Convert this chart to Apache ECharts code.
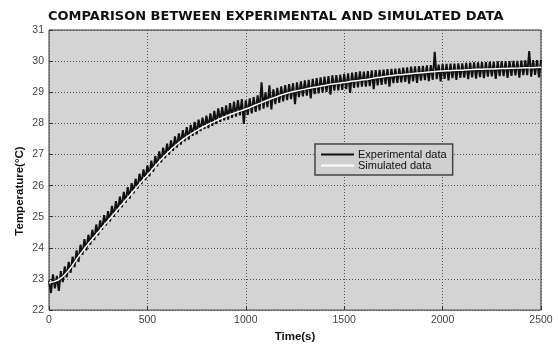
<!DOCTYPE html>
<html>
<head>
<meta charset="utf-8">
<script src="https://cdn.jsdelivr.net/npm/echarts@6/dist/echarts.min.js"></script>
<style>
  html, body { margin: 0; padding: 0; background: #fff; }
  #chart { width: 558px; height: 348px; }
</style>
</head>
<body>
<div id="chart"></div>
<script>
// measured temperature, one reading every 10 s (0..2500 s)
const EXP_STEP = 10;
const expTemp = [
  22.95, 22.55, 23.15, 22.70, 23.10, 22.62, 23.25, 22.90, 23.40, 23.05,
  23.55, 23.20, 23.72, 23.38, 23.92, 23.55, 24.10, 23.78, 24.28, 23.92,
  24.42, 24.10, 24.58, 24.25, 24.75, 24.40, 24.88, 24.58, 25.05, 24.72,
  25.18, 24.85, 25.35, 25.00, 25.50, 25.15, 25.65, 25.30, 25.80, 25.45,
  25.95, 25.58, 26.08, 25.75, 26.22, 25.90, 26.38, 26.05, 26.52, 26.18,
  26.65, 26.30, 26.80, 26.45, 26.95, 26.62, 27.10, 26.75, 27.22, 26.88,
  27.35, 27.00, 27.45, 27.12, 27.58, 27.22, 27.68, 27.32, 27.78, 27.42,
  27.88, 27.48, 27.95, 27.60, 28.05, 27.65, 28.12, 27.75, 28.18, 27.82,
  28.25, 27.85, 28.32, 27.92, 28.40, 27.98, 28.48, 28.05, 28.52, 28.10,
  28.58, 28.12, 28.65, 28.18, 28.70, 28.22, 28.75, 28.26, 28.78, 27.98,
  28.74, 28.27, 28.80, 28.32, 28.84, 28.37, 28.90, 28.42, 29.32, 28.47,
  29.00, 28.52, 29.22, 28.45, 29.09, 28.62, 29.14, 28.66, 29.19, 28.71,
  29.23, 28.75, 29.26, 28.78, 29.29, 28.62, 29.32, 28.84, 29.35, 28.87,
  29.38, 28.89, 29.40, 28.80, 29.43, 28.94, 29.45, 28.96, 29.48, 28.99,
  29.50, 29.01, 29.52, 28.92, 29.54, 29.05, 29.55, 29.06, 29.57, 29.08,
  29.59, 29.10, 29.61, 28.98, 29.63, 29.14, 29.65, 29.16, 29.67, 29.18,
  29.66, 29.18, 29.68, 29.20, 29.70, 29.10, 29.71, 29.22, 29.72, 29.24,
  29.73, 29.26, 29.74, 29.18, 29.75, 29.29, 29.76, 29.30, 29.77, 29.32,
  29.79, 29.33, 29.80, 29.28, 29.82, 29.35, 29.83, 29.30, 29.84, 29.37,
  29.85, 29.39, 29.86, 29.36, 29.87, 29.40, 30.30, 29.42, 29.89, 29.35,
  29.90, 29.43, 29.91, 29.38, 29.92, 29.45, 29.92, 29.40, 29.93, 29.46,
  29.93, 29.47, 29.94, 29.42, 29.95, 29.48, 29.96, 29.44, 29.96, 29.49,
  29.97, 29.45, 29.97, 29.50, 29.98, 29.51, 29.98, 29.43, 29.99, 29.52,
  29.99, 29.52, 30.00, 29.46, 30.00, 29.53, 30.01, 29.54, 30.01, 29.47,
  30.02, 29.55, 30.02, 29.55, 30.32, 29.50, 30.03, 29.56, 30.03, 29.48,
  30.04
];

// model output, every 50 s
const SIM_STEP = 50;
const simTemp = [
  22.88, 22.98, 23.28, 23.72, 24.13, 24.50, 24.87, 25.24, 25.61, 25.98,
  26.34, 26.70, 27.04, 27.33, 27.57, 27.77, 27.94, 28.09, 28.23, 28.35,
  28.46, 28.59, 28.72, 28.84, 28.95, 29.03, 29.10, 29.16, 29.22, 29.27,
  29.31, 29.36, 29.40, 29.45, 29.50, 29.54, 29.57, 29.60, 29.63, 29.66,
  29.68, 29.70, 29.71, 29.73, 29.74, 29.75, 29.76, 29.77, 29.78, 29.79,
  29.80
];

const xTicks = [0, 500, 1000, 1500, 2000, 2500];
const yTicks = [22, 23, 24, 25, 26, 27, 28, 29, 30, 31];

const chart = echarts.init(document.getElementById('chart'), null, { renderer: 'canvas' });

const dotted = { lineStyle: { color: '#555', type: [1, 2], width: 1 } };

chart.setOption({
  animation: false,
  backgroundColor: '#fff',
  title: {
    text: 'COMPARISON BETWEEN EXPERIMENTAL AND SIMULATED DATA',
    left: 48,
    top: 10,
    padding: 0,
    textStyle: { fontFamily: 'DejaVu Sans', fontWeight: 'bold', fontSize: 13, color: '#111' }
  },
  grid: {
    left: 49, right: 17, top: 30, bottom: 26,
    show: true,
    backgroundColor: '#d4d4d4',
    borderColor: '#333',
    borderWidth: 1
  },
  legend: {
    orient: 'vertical',
    left: 315,
    top: 144,
    padding: [5, 6, 4, 6],
    icon: 'rect',
    itemWidth: 33,
    itemHeight: 2,
    itemGap: 0,
    backgroundColor: '#d0d0d0',
    borderColor: '#444',
    borderWidth: 1.5,
    textStyle: { fontFamily: 'Liberation Sans', fontSize: 11, color: '#111', padding: [0, 0, 0, -1] },
    data: ['Experimental data', 'Simulated data']
  },
  xAxis: {
    type: 'value',
    min: xTicks[0],
    max: xTicks[xTicks.length - 1],
    interval: 500,
    name: 'Time(s)',
    nameLocation: 'middle',
    nameGap: 13,
    nameTextStyle: { fontFamily: 'Liberation Sans', fontWeight: 'bold', fontSize: 11.5, color: '#111', verticalAlign: 'top' },
    axisLine: { show: false },
    axisTick: { show: true, inside: true, length: 4, lineStyle: { color: '#333' } },
    axisLabel: { margin: 5, fontFamily: 'Liberation Sans', fontSize: 10.5, color: '#444', formatter: v => String(v) },
    splitLine: Object.assign({ show: true }, dotted)
  },
  yAxis: {
    type: 'value',
    min: yTicks[0],
    max: yTicks[yTicks.length - 1],
    interval: 1,
    axisLine: { show: false },
    axisTick: { show: true, inside: true, length: 4, lineStyle: { color: '#333' } },
    axisLabel: { margin: 5, fontFamily: 'Liberation Sans', fontSize: 10.5, color: '#444' },
    splitLine: Object.assign({ show: true }, dotted)
  },
  graphic: [{
    type: 'text',
    x: 20,
    y: 191,
    rotation: Math.PI / 2,
    style: {
      text: 'Temperature(°C)',
      fontFamily: 'Liberation Sans',
      fontWeight: 'bold',
      fontSize: 11.5,
      fill: '#111',
      align: 'center',
      verticalAlign: 'middle'
    }
  }],
  series: [
    {
      name: 'Experimental data',
      type: 'line',
      symbol: 'none',
      sampling: null,
      lineStyle: { color: '#111', width: 2 },
      itemStyle: { color: '#111' },
      data: expTemp.map((v, i) => [i * EXP_STEP, v]),
      z: 2
    },
    {
      name: 'Simulated data',
      type: 'line',
      symbol: 'none',
      smooth: true,
      lineStyle: { color: '#fff', width: 1.5 },
      itemStyle: { color: '#fff' },
      data: simTemp.map((v, i) => [i * SIM_STEP, v]),
      z: 3
    }
  ]
});
</script>
</body>
</html>
